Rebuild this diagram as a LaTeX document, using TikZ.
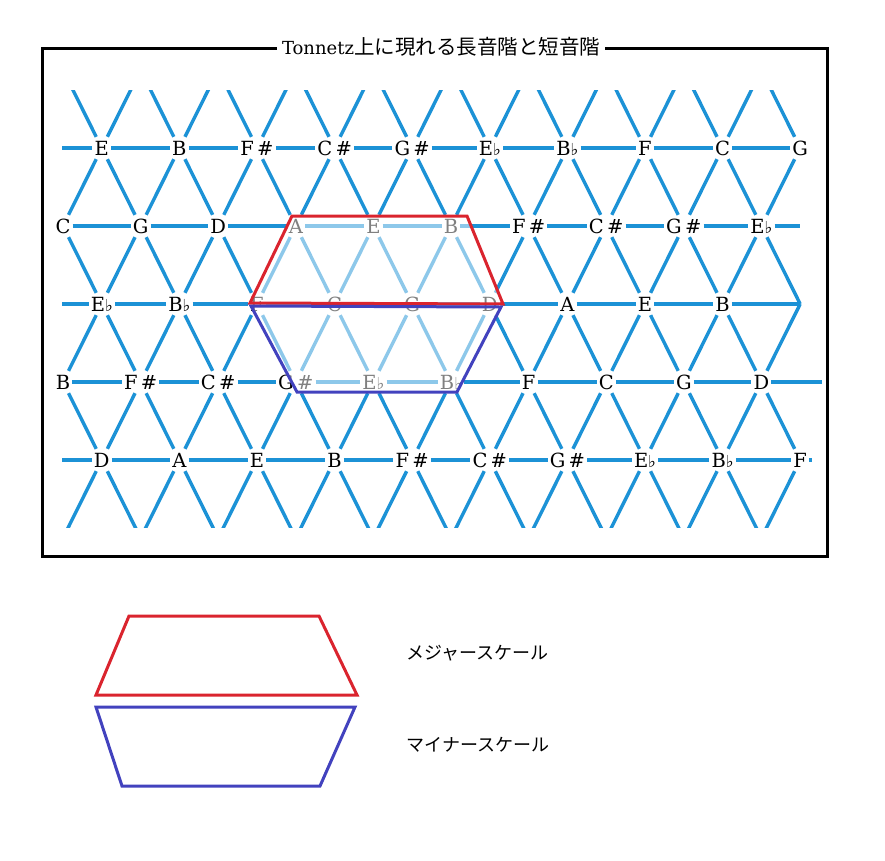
\documentclass[tikz,border=0pt]{standalone}
\usepackage{fontspec}
\setmainfont{DejaVu Serif}
\newfontfamily\jpfont{Noto Sans CJK JP}
\newfontfamily\symfont{DejaVu Sans}
\newfontfamily\ttlfont{DejaVu Serif}
\definecolor{latblue}{RGB}{28,146,214}
\definecolor{scred}{RGB}{218,36,46}
\definecolor{scblue}{RGB}{66,66,190}
\newcommand\shp{\,\#}
\newcommand\flt{{\symfont\fontsize{16.5}{16.5}\selectfont ♭}}
\begin{document}
\begin{tikzpicture}[x=1pt,y=-1pt,
  lat/.style={draw=latblue,line width=3.4pt},
  note/.style={font=\fontsize{19.5}{19.5}\selectfont,inner xsep=2pt,inner ysep=4pt,text height=14pt,text depth=0pt},
  scalered/.style={draw=scred,line width=3pt,line join=miter},
  scaleblue/.style={draw=scblue,line width=3pt,line join=miter},
  legendtext/.style={anchor=west,font=\jpfont\fontsize{18}{18}\selectfont}]
\useasboundingbox (0,0) rectangle (885,860);
% ---------- note nodes ----------
\foreach \lab [count=\k from 0] in {E,B,F\shp,C\shp,G\shp,E\flt,B\flt,F,C,G}
  \node[note] (r1-\k) at ({101.8+77.6*\k},148) {\lab};
\foreach \lab [count=\k from 0] in {C,G,D,A,E,B,F\shp,C\shp,G\shp,E\flt}
  \node[note] (r2-\k) at ({63+77.6*\k},226) {\lab};
\foreach \lab [count=\k from 0] in {E\flt,B\flt,F,C,G,D,A,E,B}
  \node[note] (r3-\k) at ({101.8+77.6*\k},304) {\lab};
\coordinate (r3-9) at (800.2,304);
\foreach \lab [count=\k from 0] in {B,F\shp,C\shp,G\shp,E\flt,B\flt,F,C,G,D}
  \node[note] (r4-\k) at ({63+77.6*\k},382) {\lab};
\foreach \lab [count=\k from 0] in {D,A,E,B,F\shp,C\shp,G\shp,E\flt,B\flt,F}
  \node[note] (r5-\k) at ({101.8+77.6*\k},460) {\lab};
\foreach \k in {0,...,9}{
  \coordinate (r0-\k) at ({63+77.6*\k},70);
  \coordinate (r6-\k) at ({63+77.6*\k},538);
}
% row-end coordinates
\coordinate (e1l) at (62,148);
\coordinate (e2r) at (800,226);
\coordinate (e3l) at (62,304);
\coordinate (e4r) at (822,382);
\coordinate (e5l) at (62,460);
\coordinate (e5r) at (812,460);
% ---------- horizontal lines ----------
\foreach \r in {1,...,5}{
  \foreach \k in {0,...,8}{
    \pgfmathtruncatemacro\kn{\k+1}
    \draw[lat] (r\r-\k) -- (r\r-\kn);
  }
}
\draw[lat] (e1l) -- (r1-0);
\draw[lat] (r2-9) -- (e2r);
\draw[lat] (e3l) -- (r3-0);
\draw[lat] (r4-9) -- (e4r);
\draw[lat] (e5l) -- (r5-0);
\draw[lat] (r5-9) -- (e5r);
% ---------- diagonals ----------
\foreach \o/\e in {1/2,3/2,3/4,5/4}{
  \foreach \j in {0,...,9}{
    \draw[lat] (r\o-\j) -- (r\e-\j);
  }
  \foreach \j in {0,...,8}{
    \pgfmathtruncatemacro\jn{\j+1}
    \draw[lat] (r\o-\j) -- (r\e-\jn);
  }
}
\begin{scope}
  \clip (0,90) rectangle (885,527);
  \foreach \o/\e in {1/0,5/6}{
    \foreach \j in {0,...,9}{
      \draw[lat] (r\o-\j) -- (r\e-\j);
    }
    \foreach \j in {0,...,8}{
      \pgfmathtruncatemacro\jn{\j+1}
      \draw[lat] (r\o-\j) -- (r\e-\jn);
    }
  }
\end{scope}
% ---------- faded scale region ----------
\fill[white,opacity=0.5] (292,216) -- (467,216) -- (503,305) -- (457,392) -- (297,392) -- (250,304) -- cycle;
\draw[scalered] (292,216) -- (467,216) -- (503,304) -- (250,303) -- cycle;
\draw[scaleblue] (251,306) -- (501,307) -- (457,392) -- (297,392) -- cycle;
% ---------- frame and title ----------
\draw[line width=3pt] (42,48) rectangle (827,556);
\node[fill=white,inner xsep=5pt,inner ysep=2pt] (title) at (441,47)
  {{\ttlfont\fontsize{18}{18}\selectfont Tonnetz}{\jpfont\fontsize{20.5}{20.5}\selectfont 上に現れる長音階と短音階}};
% ---------- legend ----------
\draw[scalered] (129,616) -- (319,616) -- (357,695) -- (96,695) -- cycle;
\draw[scaleblue] (96,707) -- (355,707) -- (320,786) -- (122,786) -- cycle;
\node[legendtext] (majlbl) at (403,653) {メジャースケール};
\node[legendtext] (minlbl) at (403,745) {マイナースケール};
\end{tikzpicture}
\end{document}
